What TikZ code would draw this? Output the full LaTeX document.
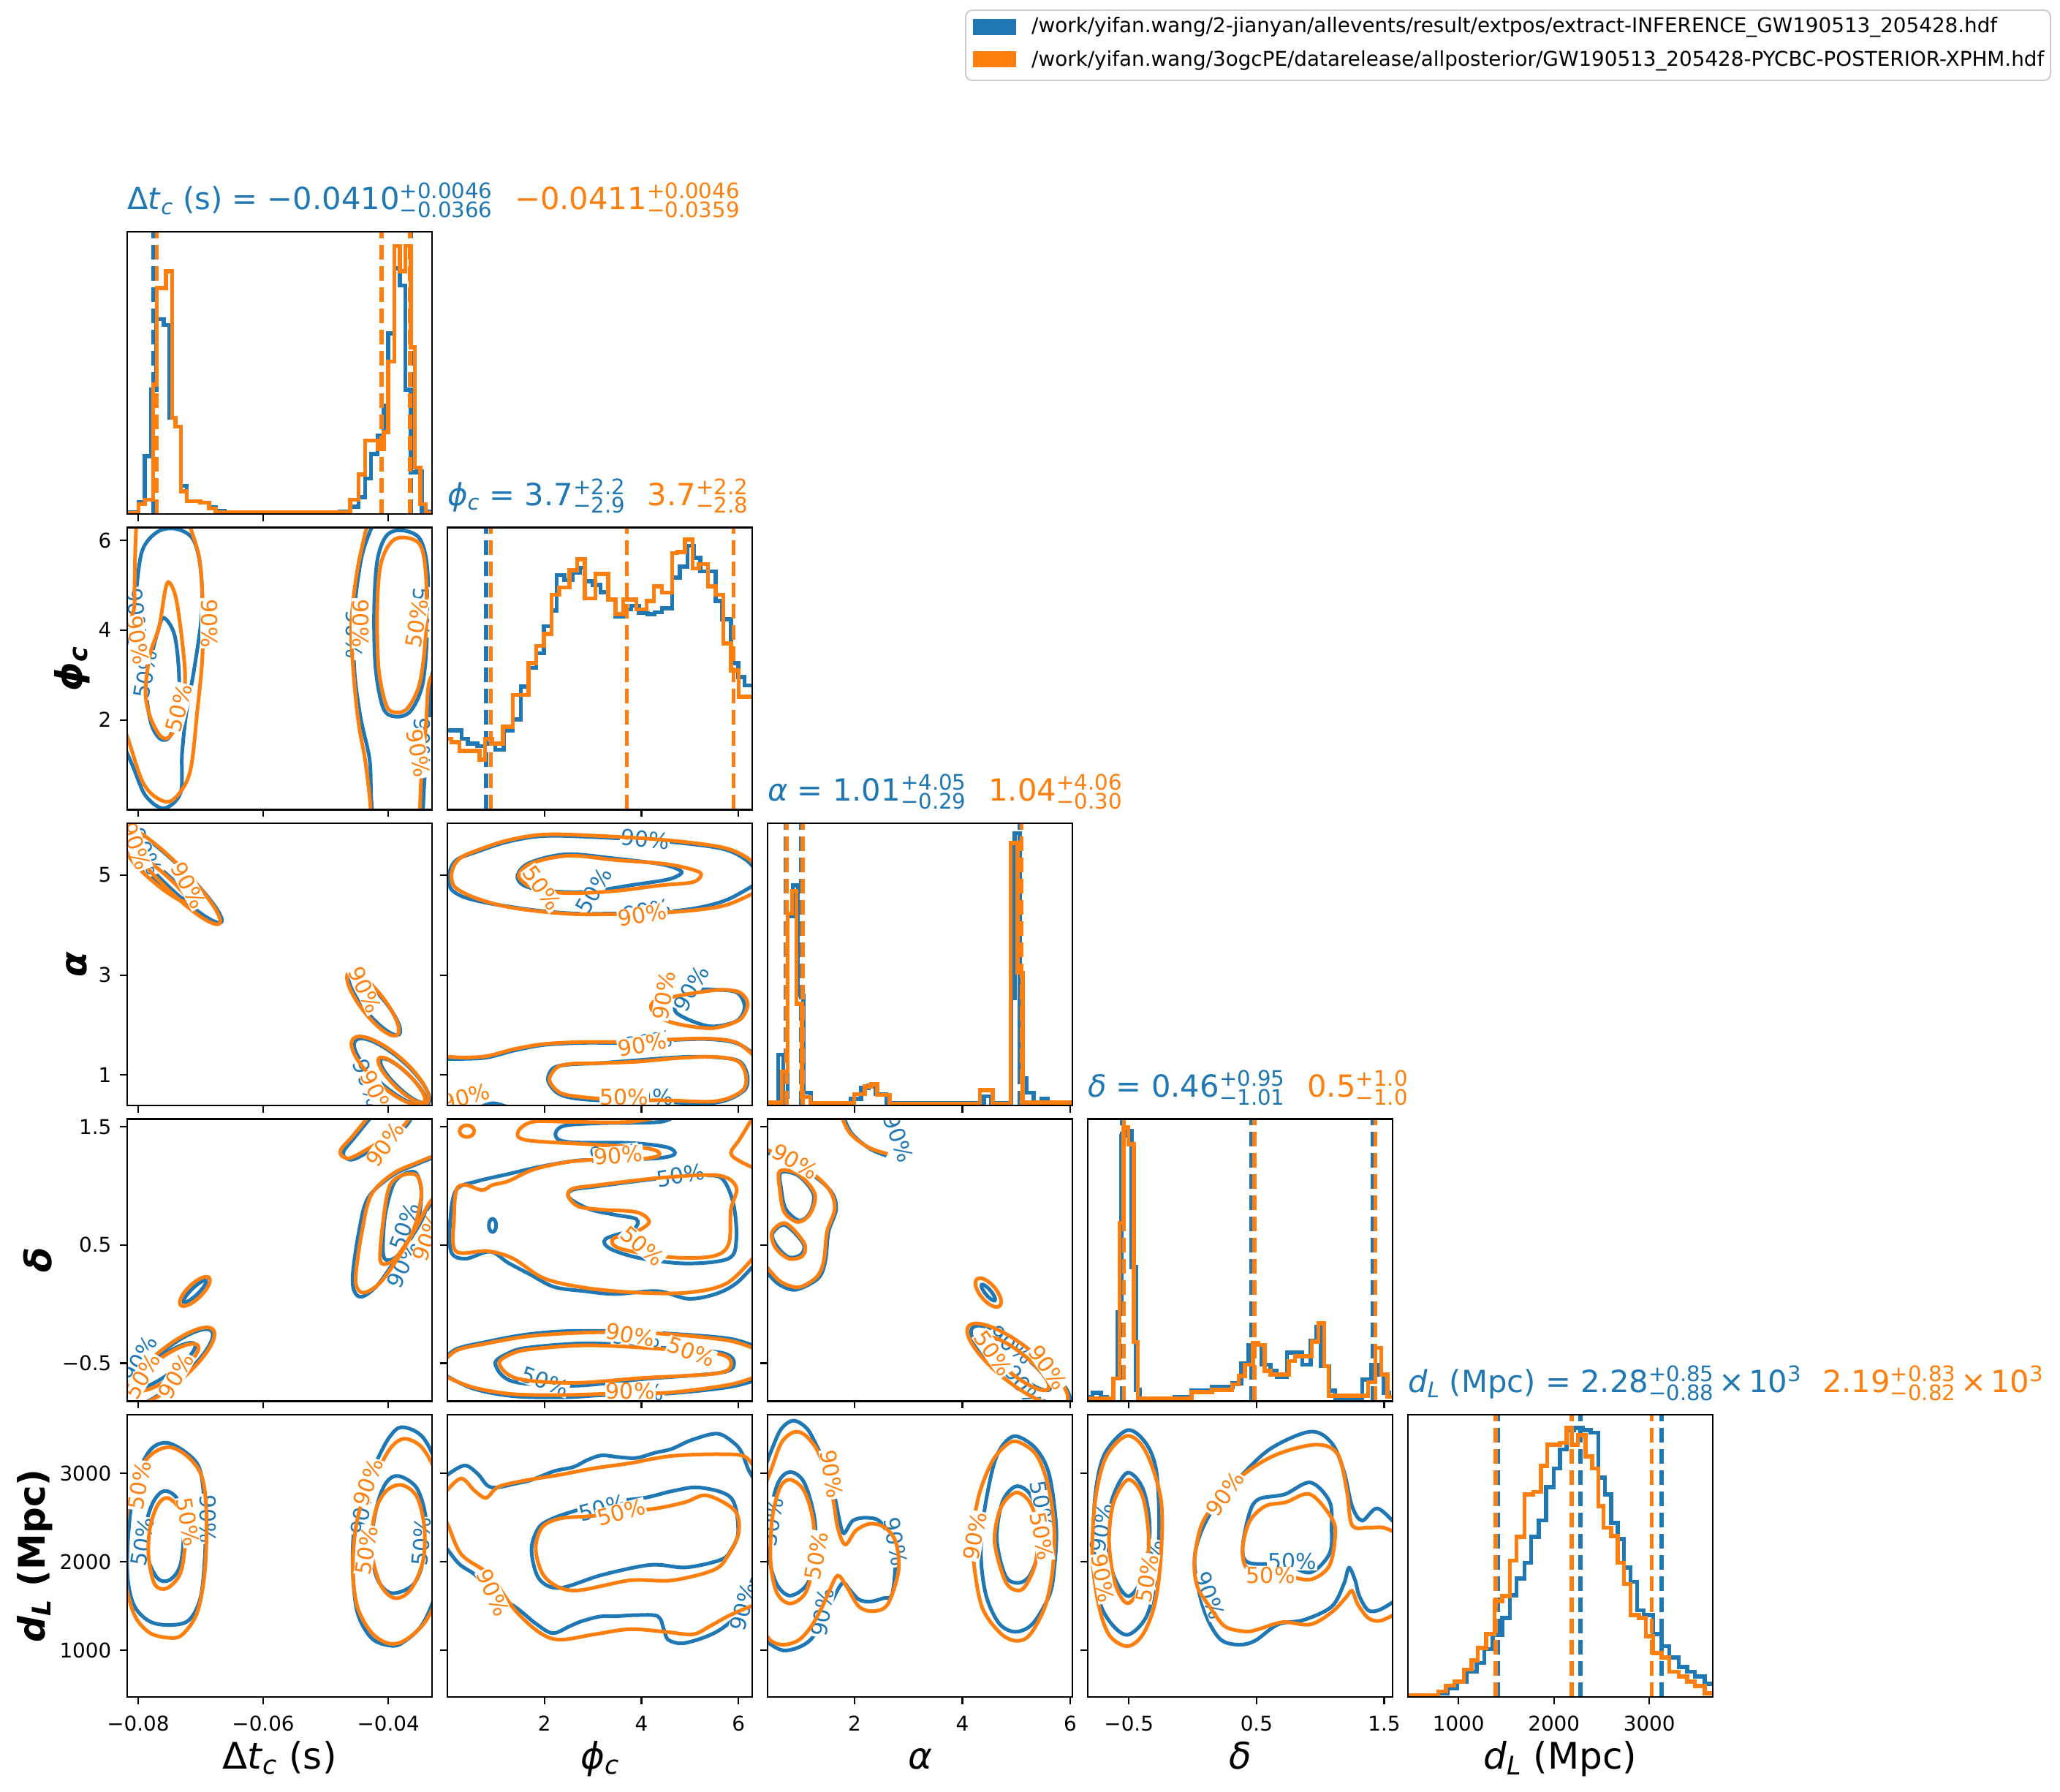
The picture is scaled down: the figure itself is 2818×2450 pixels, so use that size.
\RequirePackage{fix-cm}
\documentclass[tikz,border=0pt]{standalone}
\usepackage{fontspec}
\usepackage{amsmath}
\setmainfont{DejaVu Sans}
\definecolor{cb}{HTML}{1F77B4}
\definecolor{co}{HTML}{FF7F0E}
\newcommand\tickf{\fontsize{27.8}{30}\selectfont}
\newcommand\titf{\fontsize{41.7}{46}\selectfont}
\newcommand\labf{\fontsize{50}{56}\selectfont}
\newcommand\clabf{\fontsize{30}{32}\selectfont}
\newcommand\ud[2]{\ensuremath{^{\text{#1}}_{\text{#2}}}}
\newcommand\sbi[1]{\ensuremath{_{\text{\itshape #1}}}}
\newcommand\spr[1]{\ensuremath{^{\text{#1}}}}
\newcommand\tms{\hspace{0.15em}×\hspace{0.15em}}
\newcommand\btk[1]{\foreach \tv in {#1} {\draw[tk] (\tv,0) -- ++(0pt,-9.7pt);}}
\newcommand\ltk[1]{\foreach \tv in {#1} {\draw[tk] (0,\tv) -- ++(-9.7pt,0pt);}}
\tikzset{
 pan/.style 2 args={shift={(#1pt,#2pt)}, x=417pt, y=386pt},
 frm/.style={draw=black, line width=2.2pt},
 tk/.style={black, line width=2.2pt},
 hb/.style={cb, line width=5.5pt},
 ho/.style={co, line width=5.5pt},
 qb/.style={cb, line width=5.5pt, dash pattern=on 20pt off 9pt},
 qo/.style={co, line width=5.5pt, dash pattern=on 20pt off 9pt},
 cb5/.style={cb, line width=5pt},
 co5/.style={co, line width=5pt},
 lb/.style={text=cb, font=\clabf, inner sep=1pt, fill=white},
 lo/.style={text=co, font=\clabf, inner sep=1pt, fill=white},
 xtl/.style={anchor=north, inner sep=0pt, font=\tickf, yshift=-26pt},
 ytl/.style={anchor=east, inner sep=0pt, font=\tickf, xshift=-21.5pt},
 ttl/.style={anchor=base west, inner sep=0pt, font=\titf},
 xlab/.style={anchor=base, inner sep=0pt, font=\labf},
 ylab/.style={anchor=base, inner sep=0pt, font=\labf\bfseries, rotate=90},
 sm/.style={smooth, tension=0.55},
 smc/.style={smooth cycle, tension=0.55},
}
\begin{document}
\begin{tikzpicture}[x=1pt,y=1pt]
\fill[white] (0,0) rectangle (2818,2450);
\useasboundingbox (0,0) rectangle (2818,2450);

% ---------------- legend
\draw[draw=black!20, line width=2pt, rounded corners=9pt, fill=white] (1321,2436) rectangle (2805,2340);
\fill[cb] (1331,2402) rectangle (1390,2424);
\node[anchor=west, inner sep=0pt, font=\tickf] (lg1) at (1411,2413) {/work/yifan.wang/2-jianyan/allevents/result/extpos/extract-INFERENCE\_GW190513\_205428.hdf};
\fill[co] (1331,2358) rectangle (1390,2380);
\node[anchor=west, inner sep=0pt, font=\tickf] (lg2) at (1411,2367) {/work/yifan.wang/3ogcPE/datarelease/allposterior/GW190513\_205428-PYCBC-POSTERIOR-XPHM.hdf};

% ---------------- R1C1 dt histogram
\begin{scope}[pan={174}{1747}]
 \begin{scope}\clip (0,0) rectangle (1,1);
  \draw[hb] plot[const plot mark left] coordinates {(0,0.006) (0.037,0.043) (0.058,0.205) (0.079,0.44) (0.096,0.69) (0.12,0.67) (0.138,0.34) (0.158,0.31) (0.176,0.10) (0.196,0.045) (0.24,0.04) (0.268,0.025) (0.29,0.012) (0.32,0.004) (0.697,0.008) (0.732,0.026) (0.759,0.06) (0.78,0.126) (0.8,0.212) (0.821,0.277) (0.842,0.385) (0.856,0.64) (0.876,0.87) (0.894,0.81) (0.913,0.44) (0.931,0.147) (0.949,0.15) (0.966,0.008) (1,0.008)};
  \foreach \q in {0.0851,0.836,0.931} {\draw[qb] (\q,0) -- (\q,1);}
  \draw[ho] plot[const plot mark left] coordinates {(0,0.004) (0.037,0.035) (0.058,0.05) (0.085,0.46) (0.097,0.8) (0.113,0.8) (0.127,0.86) (0.147,0.34) (0.158,0.31) (0.176,0.08) (0.196,0.045) (0.24,0.04) (0.268,0.02) (0.29,0.005) (0.697,0.005) (0.732,0.05) (0.759,0.14) (0.78,0.26) (0.8,0.26) (0.821,0.23) (0.842,0.29) (0.856,0.54) (0.876,0.95) (0.894,0.86) (0.913,0.95) (0.931,0.59) (0.944,0.165) (0.962,0.035) (0.98,0.004) (1,0.004)};
  \foreach \q in {0.0974,0.834,0.928} {\draw[qo] (\q,0) -- (\q,1);}
 \end{scope}
 \draw[frm] (0,0) rectangle (1,1);
 \btk{0.0359,0.4462,0.8564}
\end{scope}

% ---------------- R2C1 dt-phi
\begin{scope}[pan={174}{1342.5}]
 \begin{scope}\clip (0,0) rectangle (1,1);
  \draw[cb5] plot[sm] coordinates {(-0.02,0.55) (0.02,0.65) (0.03,0.78) (0.05,0.92) (0.1,0.985) (0.16,0.995) (0.215,0.96) (0.24,0.86) (0.245,0.7) (0.22,0.5) (0.195,0.35) (0.18,0.2) (0.175,0.06) (0.12,0.005) (0.06,0.05) (0.02,0.15) (-0.02,0.25)};
  \draw[cb5] plot[smc] coordinates {(0.12,0.68) (0.155,0.62) (0.17,0.48) (0.165,0.35) (0.14,0.26) (0.11,0.25) (0.08,0.3) (0.065,0.4) (0.075,0.52) (0.1,0.63)};
  \draw[cb5] plot[sm] coordinates {(0.81,1.02) (0.77,0.9) (0.745,0.7) (0.745,0.5) (0.765,0.33) (0.795,0.18) (0.8,0.05) (0.805,-0.02)};
  \draw[cb5] plot[sm] coordinates {(0.97,-0.02) (0.975,0.1) (0.99,0.3) (0.995,0.45) (1.02,0.55)};
  \draw[cb5] plot[smc] coordinates {(0.9,0.99) (0.96,0.96) (0.985,0.85) (0.985,0.65) (0.97,0.45) (0.93,0.35) (0.88,0.33) (0.84,0.36) (0.815,0.5) (0.81,0.7) (0.82,0.88) (0.85,0.97)};
  \node[lb, rotate=-85] (l21a) at (0.03,0.7) {90\%};
  \node[lb, rotate=80] (l21b) at (0.06,0.48) {50\%};
  \node[lb, rotate=-90] (l21c) at (0.745,0.62) {90\%};
  \node[lb, rotate=-90] (l21d) at (0.965,0.7) {50\%};
  \node[lb, rotate=-90] (l21e) at (0.968,0.24) {90\%};
  \draw[co5] plot[sm] coordinates {(0.03,1.02) (0.026,0.9) (0.024,0.79) (0.02,0.7) (-0.02,0.62)};
  \draw[co5] plot[sm] coordinates {(0.2,1.02) (0.235,0.9) (0.247,0.75) (0.247,0.55) (0.23,0.35) (0.205,0.13) (0.15,0.035) (0.1,0.04) (0.05,0.1) (0.0,0.26) (-0.02,0.3)};
  \draw[co5] plot[smc] coordinates {(0.138,0.805) (0.16,0.75) (0.18,0.6) (0.19,0.46) (0.175,0.33) (0.14,0.26) (0.11,0.26) (0.075,0.33) (0.06,0.42) (0.075,0.55) (0.105,0.65) (0.125,0.78)};
  \draw[co5] plot[sm] coordinates {(0.79,1.02) (0.755,0.85) (0.735,0.65) (0.745,0.45) (0.76,0.3) (0.78,0.18) (0.795,0.05) (0.8,-0.02)};
  \draw[co5] plot[sm] coordinates {(0.96,-0.02) (0.965,0.12) (0.98,0.3) (0.99,0.45) (1.02,0.5)};
  \draw[co5] plot[smc] coordinates {(0.9,0.965) (0.96,0.94) (0.98,0.83) (0.98,0.63) (0.96,0.45) (0.92,0.36) (0.88,0.345) (0.85,0.37) (0.825,0.5) (0.82,0.7) (0.83,0.86) (0.86,0.94)};
  \node[lo, rotate=-80] (l21f) at (0.035,0.6) {90\%};
  \node[lo, rotate=75] (l21g) at (0.17,0.36) {50\%};
  \node[lo, rotate=-90] (l21h) at (0.27,0.66) {90\%};
  \node[lo, rotate=-90] (l21i) at (0.765,0.66) {90\%};
  \node[lo, rotate=80] (l21j) at (0.95,0.66) {50\%};
  \node[lo, rotate=-80] (l21k) at (0.955,0.2) {90\%};
 \end{scope}
 \draw[frm] (0,0) rectangle (1,1);
 \btk{0.0359,0.4462,0.8564}
 \ltk{0.3183,0.6366,0.9549}
 \foreach \tv/\s in {0.3183/2,0.6366/4,0.9549/6} {\node[ytl] at (0,\tv) {\s};}
\end{scope}

% ---------------- R2C2 phi histogram
\begin{scope}[pan={612}{1342.5}]
 \begin{scope}\clip (0,0) rectangle (1,1);
  \draw[hb] plot[const plot mark left] coordinates {(0,0.281) (0.047,0.251) (0.067,0.234) (0.098,0.225) (0.123,0.234) (0.157,0.212) (0.185,0.281) (0.215,0.32) (0.241,0.437) (0.266,0.502) (0.291,0.554) (0.316,0.65) (0.342,0.706) (0.359,0.831) (0.384,0.814) (0.41,0.84) (0.434,0.857) (0.451,0.81) (0.476,0.797) (0.502,0.771) (0.527,0.745) (0.552,0.684) (0.577,0.71) (0.603,0.723) (0.628,0.697) (0.657,0.693) (0.68,0.7) (0.704,0.714) (0.737,0.822) (0.763,0.861) (0.788,0.935) (0.808,0.892) (0.83,0.844) (0.855,0.844) (0.88,0.74) (0.9,0.675) (0.93,0.52) (0.955,0.47) (0.975,0.44) (1,0.44)};
  \foreach \q in {0.127,0.589,0.939} {\draw[qb] (\q,0) -- (\q,1);}
  \draw[ho] plot[const plot mark left] coordinates {(0,0.251) (0.013,0.24) (0.039,0.208) (0.106,0.177) (0.123,0.251) (0.148,0.234) (0.182,0.294) (0.215,0.407) (0.266,0.52) (0.291,0.58) (0.316,0.623) (0.342,0.762) (0.367,0.788) (0.401,0.848) (0.426,0.887) (0.451,0.749) (0.485,0.835) (0.527,0.745) (0.552,0.693) (0.577,0.745) (0.62,0.71) (0.653,0.74) (0.678,0.792) (0.704,0.77) (0.737,0.909) (0.754,0.913) (0.779,0.957) (0.805,0.855) (0.825,0.87) (0.855,0.792) (0.88,0.762) (0.905,0.589) (0.93,0.494) (0.956,0.4) (1,0.4)};
  \foreach \q in {0.143,0.589,0.939} {\draw[qo] (\q,0) -- (\q,1);}
 \end{scope}
 \draw[frm] (0,0) rectangle (1,1);
 \btk{0.3183,0.6366,0.9549}
\end{scope}

% ---------------- R3C1 dt-alpha
\begin{scope}[pan={174}{938}]
 \begin{scope}\clip (0,0) rectangle (1,1);
  \draw[cb5, rotate around={-44:(0.15,0.815)}] (0.15,0.815) ellipse [x radius=92pt, y radius=15pt];
  \draw[cb5, rotate around={-40:(0.105,0.815)}] (0.105,0.815) ellipse [x radius=50pt, y radius=8pt];
  \draw[cb5, rotate around={-50:(0.812,0.355)}] (0.812,0.355) ellipse [x radius=52pt, y radius=14pt];
  \draw[cb5, rotate around={-41:(0.868,0.118)}] (0.868,0.118) ellipse [x radius=66pt, y radius=21pt];
  \draw[cb5, rotate around={-44:(0.905,0.088)}] (0.905,0.088) ellipse [x radius=42pt, y radius=11pt];
  \node[lb, rotate=-65] (l31a) at (0.06,0.9) {90\%};
  \node[lb, rotate=-70] (l31b) at (0.79,0.08) {90\%};
  \draw[co5, rotate around={-45:(0.145,0.815)}] (0.145,0.815) ellipse [x radius=93pt, y radius=17pt];
  \draw[co5, rotate around={-40:(0.1,0.81)}] (0.1,0.81) ellipse [x radius=52pt, y radius=9pt];
  \draw[co5, rotate around={-52:(0.806,0.36)}] (0.806,0.36) ellipse [x radius=54pt, y radius=16pt];
  \draw[co5, rotate around={-41:(0.862,0.122)}] (0.862,0.122) ellipse [x radius=67pt, y radius=23pt];
  \draw[co5, rotate around={-44:(0.9,0.09)}] (0.9,0.09) ellipse [x radius=43pt, y radius=12pt];
  \node[lo, rotate=-62] (l31c) at (0.2,0.78) {90\%};
  \node[lo, rotate=-70] (l31d) at (0.03,0.92) {90\%};
  \node[lo, rotate=-65] (l31e) at (0.78,0.41) {90\%};
  \node[lo, rotate=-65] (l31f) at (0.82,0.04) {90\%};
 \end{scope}
 \draw[frm] (0,0) rectangle (1,1);
 \btk{0.0359,0.4462,0.8564}
 \ltk{0.108,0.462,0.816}
 \foreach \tv/\s in {0.108/1,0.462/3,0.816/5} {\node[ytl] at (0,\tv) {\s};}
\end{scope}

% ---------------- R3C2 phi-alpha
\begin{scope}[pan={612}{938}]
 \begin{scope}\clip (0,0) rectangle (1,1);
  \draw[cb5] plot[sm] coordinates {(1.02,0.82) (0.98,0.87) (0.9,0.91) (0.72,0.935) (0.5,0.95) (0.32,0.955) (0.2,0.935) (0.1,0.9) (0.03,0.87) (0.005,0.82) (0.01,0.77) (0.05,0.74) (0.12,0.72) (0.2,0.705) (0.3,0.69) (0.42,0.68) (0.55,0.68) (0.7,0.685) (0.82,0.7) (0.92,0.73) (1.02,0.79)};
  \draw[cb5] plot[smc] coordinates {(0.23,0.816) (0.27,0.86) (0.39,0.89) (0.55,0.875) (0.7,0.855) (0.76,0.835) (0.765,0.82) (0.72,0.8) (0.6,0.78) (0.46,0.757) (0.33,0.76) (0.25,0.78)};
  \draw[cb5] plot[sm] coordinates {(-0.02,0.165) (0.05,0.165) (0.13,0.17) (0.22,0.195) (0.32,0.215) (0.45,0.222) (0.56,0.222) (0.7,0.23) (0.85,0.235) (0.95,0.22) (1.02,0.17)};
  \draw[cb5] plot[sm] coordinates {(0.1,-0.01) (0.15,0.008) (0.21,-0.01)};
  \draw[cb5] plot[smc] coordinates {(0.347,0.132) (0.33,0.09) (0.36,0.045) (0.42,0.025) (0.55,0.015) (0.7,0.012) (0.88,0.01) (0.97,0.05) (0.985,0.1) (0.96,0.155) (0.89,0.17) (0.78,0.172) (0.62,0.16) (0.5,0.15) (0.4,0.145)};
  \draw[cb5] plot[smc] coordinates {(0.75,0.33) (0.8,0.3) (0.87,0.28) (0.95,0.3) (0.975,0.35) (0.95,0.4) (0.88,0.41) (0.82,0.41) (0.78,0.39) (0.75,0.36)};
  \node[lb, rotate=-5] (l32a) at (0.648,0.943) {90\%};
  \node[lb, rotate=10] (l32b) at (0.655,0.69) {90\%};
  \node[lb, rotate=60] (l32c) at (0.48,0.76) {50\%};
  \node[lb, rotate=10] (l32d) at (0.66,0.225) {90\%};
  \node[lb] (l32e) at (0.66,0.03) {50\%};
  \node[lb, rotate=60] (l32f) at (0.8,0.415) {90\%};
  \draw[co5] plot[sm] coordinates {(1.02,0.84) (0.98,0.88) (0.9,0.915) (0.72,0.94) (0.5,0.955) (0.32,0.96) (0.2,0.94) (0.1,0.905) (0.04,0.875) (0.015,0.83) (0.02,0.78) (0.06,0.75) (0.12,0.725) (0.2,0.703) (0.3,0.688) (0.42,0.678) (0.55,0.678) (0.7,0.683) (0.82,0.693) (0.92,0.712) (1.02,0.76)};
  \draw[co5] plot[smc] coordinates {(0.235,0.82) (0.28,0.86) (0.4,0.885) (0.55,0.87) (0.72,0.855) (0.82,0.83) (0.83,0.81) (0.8,0.79) (0.7,0.78) (0.55,0.76) (0.4,0.752) (0.3,0.765) (0.25,0.79)};
  \draw[co5] plot[sm] coordinates {(-0.02,0.175) (0.05,0.17) (0.13,0.175) (0.22,0.2) (0.32,0.218) (0.45,0.225) (0.56,0.225) (0.7,0.232) (0.85,0.237) (0.95,0.222) (1.02,0.16)};
  \draw[co5] plot[smc] coordinates {(0.36,0.135) (0.335,0.09) (0.37,0.045) (0.44,0.03) (0.56,0.02) (0.72,0.018) (0.88,0.015) (0.965,0.05) (0.98,0.1) (0.955,0.155) (0.88,0.172) (0.76,0.168) (0.62,0.155) (0.5,0.15) (0.41,0.148)};
  \draw[co5] plot[smc] coordinates {(0.67,0.34) (0.72,0.3) (0.8,0.28) (0.88,0.275) (0.96,0.305) (0.985,0.36) (0.96,0.4) (0.9,0.41) (0.82,0.4) (0.74,0.385) (0.68,0.37)};
  \node[lo, rotate=-55] (l32g) at (0.31,0.77) {50\%};
  \node[lo, rotate=10] (l32h) at (0.64,0.675) {90\%};
  \node[lo, rotate=10] (l32i) at (0.64,0.215) {90\%};
  \node[lo] (l32j) at (0.58,0.03) {50\%};
  \node[lo, rotate=15] (l32k) at (0.06,0.03) {90\%};
  \node[lo, rotate=80] (l32l) at (0.71,0.39) {90\%};
 \end{scope}
 \draw[frm] (0,0) rectangle (1,1);
 \btk{0.3183,0.6366,0.9549}
 \ltk{0.108,0.462,0.816}
\end{scope}

% ---------------- R3C3 alpha histogram
\begin{scope}[pan={1050}{938}]
 \begin{scope}\clip (0,0) rectangle (1,1);
  \draw[hb] plot[const plot mark left] coordinates {(0,0.01) (0.035,0.18) (0.052,0.03) (0.066,0.67) (0.083,0.78) (0.1,0.39) (0.118,0.045) (0.142,0.008) (0.272,0.023) (0.307,0.062) (0.331,0.071) (0.355,0.04) (0.39,0.008) (0.71,0.032) (0.734,0.008) (0.8,0.38) (0.81,0.965) (0.827,0.097) (0.85,0.045) (0.873,0.01) (0.898,0.023) (0.92,0.006) (1,0.006)};
  \foreach \q in {0.0584,0.1097,0.8265} {\draw[qb] (\q,0) -- (\q,1);}
  \draw[ho] plot[const plot mark left] coordinates {(0,0.01) (0.047,0.12) (0.066,0.68) (0.08,0.76) (0.095,0.36) (0.113,0.03) (0.14,0.008) (0.284,0.04) (0.319,0.067) (0.34,0.075) (0.36,0.037) (0.4,0.006) (0.697,0.054) (0.738,0.006) (0.797,0.93) (0.82,0.47) (0.837,0.01) (1,0.006)};
  \foreach \q in {0.062,0.115,0.8336} {\draw[qo] (\q,0) -- (\q,1);}
 \end{scope}
 \draw[frm] (0,0) rectangle (1,1);
 \btk{0.285,0.6389,0.9929}
\end{scope}

% ---------------- R4C1 dt-delta
\begin{scope}[pan={174}{533.5}]
 \begin{scope}\clip (0,0) rectangle (1,1);
  \draw[cb5] plot[sm] coordinates {(0.81,1.02) (0.75,0.94) (0.71,0.885) (0.72,0.86) (0.76,0.865) (0.9,0.96) (0.94,1.02)};
  \draw[cb5] plot[sm] coordinates {(1.02,0.87) (0.95,0.84) (0.87,0.8) (0.79,0.72) (0.76,0.6) (0.74,0.45) (0.745,0.39) (0.77,0.37) (0.82,0.41) (0.88,0.5) (0.95,0.61) (0.99,0.69) (1.02,0.72)};
  \draw[cb5] plot[smc] coordinates {(0.946,0.81) (0.965,0.74) (0.95,0.62) (0.9,0.53) (0.862,0.5) (0.84,0.52) (0.845,0.65) (0.87,0.76) (0.9,0.8)};
  \draw[cb5, rotate around={44:(0.222,0.389)}] (0.222,0.389) ellipse [x radius=21pt, y radius=5pt];
  \draw[cb5, rotate around={40:(0.13,0.115)}] (0.13,0.115) ellipse [x radius=80pt, y radius=22pt];
  \draw[cb5, rotate around={35:(0.12,0.125)}] (0.12,0.125) ellipse [x radius=52pt, y radius=13pt];
  \node[lb, rotate=65] (l41a) at (0.905,0.485) {90\%};
  \node[lb, rotate=70] (l41b) at (0.91,0.62) {50\%};
  \node[lb, rotate=60] (l41c) at (0.04,0.15) {90\%};
  \draw[co5] plot[sm] coordinates {(0.8,1.02) (0.74,0.94) (0.7,0.89) (0.71,0.865) (0.75,0.87) (0.9,0.97) (0.93,1.02)};
  \draw[co5] plot[sm] coordinates {(1.02,0.875) (0.95,0.845) (0.87,0.805) (0.8,0.73) (0.77,0.6) (0.75,0.45) (0.755,0.4) (0.78,0.385) (0.83,0.42) (0.89,0.51) (0.95,0.62) (0.99,0.7) (1.02,0.735)};
  \draw[co5] plot[smc] coordinates {(0.95,0.8) (0.965,0.73) (0.94,0.61) (0.89,0.52) (0.86,0.49) (0.83,0.5) (0.84,0.64) (0.86,0.76) (0.9,0.8)};
  \draw[co5, rotate around={44:(0.222,0.389)}] (0.222,0.389) ellipse [x radius=27pt, y radius=10pt];
  \draw[co5, rotate around={40:(0.135,0.12)}] (0.135,0.12) ellipse [x radius=80pt, y radius=24pt];
  \draw[co5, rotate around={35:(0.13,0.12)}] (0.13,0.12) ellipse [x radius=52pt, y radius=15pt];
  \node[lo, rotate=55] (l41d) at (0.845,0.91) {90\%};
  \node[lo, rotate=70] (l41e) at (0.985,0.58) {90\%};
  \node[lo, rotate=60] (l41f) at (0.05,0.09) {50\%};
  \node[lo, rotate=60] (l41g) at (0.16,0.09) {90\%};
 \end{scope}
 \draw[frm] (0,0) rectangle (1,1);
 \btk{0.0359,0.4462,0.8564}
 \ltk{0.1348,0.5536,0.9724}
 \foreach \tv/\s in {0.1348/−0.5,0.5536/0.5,0.9724/1.5} {\node[ytl] at (0,\tv) {\s};}
\end{scope}

% ---------------- R4C2 phi-delta
\begin{scope}[pan={612}{533.5}]
 \begin{scope}\clip (0,0) rectangle (1,1);
  \draw[cb5] plot[sm] coordinates {(0.754,1.02) (0.7,0.99) (0.5,0.985) (0.38,0.975) (0.355,0.94) (0.4,0.918) (0.6,0.915) (0.72,0.9) (0.745,0.875) (0.68,0.86) (0.5,0.855) (0.42,0.852) (0.3,0.83) (0.2,0.805) (0.1,0.78) (0.03,0.75) (0.01,0.65) (0.012,0.53) (0.06,0.505) (0.14,0.53) (0.2,0.49) (0.27,0.45) (0.35,0.405) (0.45,0.39) (0.55,0.38) (0.69,0.39) (0.79,0.363) (0.88,0.38) (0.95,0.42) (1.02,0.5)};
  \draw[cb5] (0.148,0.623) ellipse [x radius=5pt, y radius=9pt];
  \draw[cb5] plot[smc] coordinates {(0.409,0.748) (0.4,0.72) (0.468,0.68) (0.552,0.66) (0.62,0.645) (0.611,0.61) (0.519,0.575) (0.535,0.54) (0.636,0.506) (0.788,0.488) (0.923,0.506) (0.948,0.575) (0.939,0.696) (0.906,0.783) (0.855,0.8) (0.687,0.788) (0.488,0.761)};
  \draw[cb5] plot[sm] coordinates {(-0.02,0.14) (0.03,0.185) (0.131,0.211) (0.25,0.235) (0.384,0.248) (0.55,0.248) (0.72,0.24) (0.923,0.222) (1.02,0.19)};
  \draw[cb5] plot[sm] coordinates {(-0.02,0.1) (0.081,0.046) (0.215,0.018) (0.384,0.014) (0.52,0.022) (0.72,0.027) (0.923,0.05) (1.02,0.078)};
  \draw[cb5] plot[smc] coordinates {(0.157,0.133) (0.2,0.17) (0.266,0.19) (0.468,0.205) (0.72,0.188) (0.906,0.17) (0.94,0.128) (0.89,0.1) (0.636,0.078) (0.418,0.055) (0.215,0.07)};
  \node[lb, rotate=5] (l42a) at (0.545,0.878) {90\%};
  \node[lb, rotate=10] (l42b) at (0.765,0.8) {50\%};
  \node[lb, rotate=-5] (l42c) at (0.62,0.225) {90\%};
  \node[lb, rotate=-20] (l42d) at (0.32,0.07) {50\%};
  \node[lb] (l42e) at (0.63,0.03) {90\%};
  \draw[co5] plot[sm] coordinates {(0.75,1.02) (0.6,0.99) (0.4,0.99) (0.28,0.99) (0.232,0.955) (0.26,0.925) (0.47,0.91) (0.66,0.895) (0.695,0.872) (0.63,0.858) (0.47,0.855) (0.38,0.845) (0.28,0.82) (0.2,0.78) (0.148,0.766) (0.114,0.748) (0.06,0.766) (0.03,0.75) (0.022,0.653) (0.027,0.532) (0.131,0.532) (0.215,0.506) (0.316,0.436) (0.451,0.402) (0.62,0.385) (0.79,0.385) (0.92,0.42) (1.02,0.53)};
  \draw[co5] plot[sm] coordinates {(1.01,1.02) (0.96,0.93) (0.93,0.88) (0.96,0.85) (1.02,0.82)};
  \draw[co5] (0.064,0.957) ellipse [x radius=10pt, y radius=8pt];
  \draw[co5] plot[smc] coordinates {(0.409,0.752) (0.397,0.725) (0.43,0.69) (0.502,0.679) (0.62,0.67) (0.662,0.636) (0.62,0.601) (0.543,0.575) (0.569,0.54) (0.737,0.51) (0.872,0.514) (0.923,0.558) (0.93,0.679) (0.948,0.757) (0.889,0.8) (0.704,0.792) (0.488,0.765)};
  \draw[co5] plot[sm] coordinates {(-0.02,0.13) (0.03,0.18) (0.131,0.205) (0.25,0.228) (0.384,0.24) (0.55,0.245) (0.72,0.238) (0.923,0.215) (1.02,0.18)};
  \draw[co5] plot[sm] coordinates {(-0.02,0.095) (0.081,0.05) (0.215,0.025) (0.384,0.022) (0.52,0.026) (0.72,0.03) (0.923,0.058) (1.02,0.09)};
  \draw[co5] plot[smc] coordinates {(0.17,0.133) (0.21,0.168) (0.28,0.185) (0.468,0.198) (0.72,0.184) (0.9,0.165) (0.93,0.126) (0.88,0.098) (0.636,0.082) (0.418,0.065) (0.23,0.08)};
  \node[lo, rotate=5] (l42f) at (0.56,0.872) {90\%};
  \node[lo, rotate=-40] (l42g) at (0.64,0.55) {50\%};
  \node[lo, rotate=-10] (l42h) at (0.6,0.235) {90\%};
  \node[lo, rotate=-20] (l42i) at (0.8,0.175) {50\%};
  \node[lo] (l42j) at (0.6,0.035) {90\%};
 \end{scope}
 \draw[frm] (0,0) rectangle (1,1);
 \btk{0.3183,0.6366,0.9549}
 \ltk{0.1348,0.5536,0.9724}
\end{scope}

% ---------------- R4C3 alpha-delta
\begin{scope}[pan={1050}{533.5}]
 \begin{scope}\clip (0,0) rectangle (1,1);
  \draw[cb5] plot[sm] coordinates {(0.245,1.02) (0.275,0.95) (0.335,0.895) (0.39,0.87)};
  \draw[cb5] plot[sm] coordinates {(-0.02,0.89) (0.06,0.85) (0.15,0.8) (0.21,0.74) (0.225,0.68) (0.2,0.6) (0.19,0.5) (0.17,0.44) (0.12,0.405) (0.08,0.395) (0.03,0.42) (-0.02,0.48)};
  \draw[cb5] plot[smc] coordinates {(0.043,0.81) (0.1,0.8) (0.15,0.735) (0.14,0.67) (0.105,0.64) (0.06,0.68) (0.045,0.75)};
  \draw[cb5] plot[smc] coordinates {(0.016,0.593) (0.057,0.624) (0.117,0.559) (0.11,0.52) (0.07,0.51) (0.03,0.55)};
  \draw[cb5, rotate around={-50:(0.724,0.385)}] (0.724,0.385) ellipse [x radius=14pt, y radius=4pt];
  \draw[cb5, rotate around={-38:(0.83,0.125)}] (0.83,0.125) ellipse [x radius=84pt, y radius=24pt];
  \draw[cb5, rotate around={-39:(0.825,0.13)}] (0.825,0.13) ellipse [x radius=54pt, y radius=13pt];
  \node[lb, rotate=-70] (l43a) at (0.43,0.93) {90\%};
  \node[lb, rotate=-38] (l43b) at (0.8,0.2) {90\%};
  \node[lb, rotate=-55] (l43c) at (0.84,0.05) {90\%};
  \draw[co5] plot[sm] coordinates {(0.239,1.02) (0.27,0.95) (0.33,0.9) (0.394,0.876)};
  \draw[co5] plot[sm] coordinates {(-0.02,0.9) (0.06,0.86) (0.15,0.805) (0.205,0.745) (0.22,0.68) (0.195,0.6) (0.185,0.5) (0.165,0.445) (0.12,0.41) (0.085,0.405) (0.035,0.43) (-0.02,0.5)};
  \draw[co5] plot[smc] coordinates {(0.04,0.815) (0.1,0.805) (0.155,0.735) (0.14,0.665) (0.1,0.635) (0.055,0.67) (0.04,0.75)};
  \draw[co5] plot[smc] coordinates {(0.015,0.6) (0.06,0.63) (0.12,0.56) (0.115,0.515) (0.07,0.505) (0.025,0.545)};
  \draw[co5, rotate around={-50:(0.724,0.385)}] (0.724,0.385) ellipse [x radius=24pt, y radius=11pt];
  \draw[co5, rotate around={-38:(0.82,0.13)}] (0.82,0.13) ellipse [x radius=85pt, y radius=26pt];
  \draw[co5, rotate around={-39:(0.818,0.133)}] (0.818,0.133) ellipse [x radius=55pt, y radius=15pt];
  \node[lo, rotate=-30] (l43d) at (0.09,0.85) {90\%};
  \node[lo, rotate=-55] (l43e) at (0.92,0.12) {90\%};
  \node[lo, rotate=-55] (l43f) at (0.74,0.17) {50\%};
 \end{scope}
 \draw[frm] (0,0) rectangle (1,1);
 \btk{0.285,0.6389,0.9929}
 \ltk{0.1348,0.5536,0.9724}
\end{scope}

% ---------------- R4C4 delta histogram
\begin{scope}[pan={1488}{533.5}]
 \begin{scope}\clip (0,0) rectangle (1,1);
  \draw[hb] plot[const plot mark left] coordinates {(0,0.016) (0.016,0.03) (0.043,0.016) (0.062,0.01) (0.084,0.08) (0.097,0.315) (0.11,0.94) (0.124,0.958) (0.144,0.476) (0.158,0.04) (0.171,0.01) (0.185,0.007) (0.285,0.015) (0.34,0.037) (0.408,0.05) (0.475,0.063) (0.503,0.133) (0.528,0.2) (0.57,0.13) (0.6,0.107) (0.62,0.085) (0.654,0.172) (0.704,0.13) (0.731,0.215) (0.751,0.263) (0.765,0.124) (0.792,0.037) (0.812,0.008) (0.9,0.076) (0.93,0.129) (0.95,0.094) (0.97,0.03) (0.988,0.015) (1,0.015)};
  \foreach \q in {0.113,0.537,0.935} {\draw[qb] (\q,0) -- (\q,1);}
  \draw[ho] plot[const plot mark left] coordinates {(0,0.01) (0.084,0.08) (0.104,0.632) (0.117,0.97) (0.133,0.91) (0.151,0.21) (0.164,0.01) (0.285,0.01) (0.34,0.033) (0.408,0.04) (0.474,0.059) (0.495,0.09) (0.515,0.129) (0.542,0.207) (0.56,0.2) (0.58,0.107) (0.6,0.094) (0.66,0.142) (0.68,0.159) (0.735,0.211) (0.756,0.276) (0.776,0.124) (0.79,0.02) (0.92,0.068) (0.944,0.189) (0.963,0.094) (0.983,0.015) (1,0.015)};
  \foreach \q in {0.119,0.547,0.943} {\draw[qo] (\q,0) -- (\q,1);}
 \end{scope}
 \draw[frm] (0,0) rectangle (1,1);
 \btk{0.1348,0.5536,0.9724}
\end{scope}

% ---------------- R5C1 dt-dL
\begin{scope}[pan={174}{129}]
 \begin{scope}\clip (0,0) rectangle (1,1);
  \draw[cb5] plot[smc] coordinates {(0.133,0.9) (0.2,0.86) (0.24,0.8) (0.255,0.65) (0.255,0.5) (0.24,0.35) (0.2,0.27) (0.133,0.255) (0.07,0.27) (0.02,0.33) (0.0,0.45) (0.01,0.65) (0.04,0.8) (0.08,0.88)};
  \draw[cb5] plot[smc] coordinates {(0.122,0.73) (0.165,0.7) (0.185,0.6) (0.175,0.47) (0.14,0.415) (0.1,0.42) (0.065,0.5) (0.06,0.6) (0.085,0.69)};
  \draw[cb5] plot[smc] coordinates {(0.901,0.956) (0.97,0.92) (1.02,0.8) (1.04,0.6) (1.02,0.4) (0.97,0.26) (0.9,0.19) (0.856,0.183) (0.8,0.21) (0.755,0.3) (0.74,0.45) (0.745,0.6) (0.775,0.73) (0.82,0.84) (0.86,0.92)};
  \draw[cb5] plot[smc] coordinates {(0.89,0.783) (0.95,0.74) (0.98,0.63) (0.975,0.5) (0.94,0.4) (0.867,0.368) (0.82,0.42) (0.8,0.54) (0.82,0.68) (0.85,0.76)};
  \node[lb, rotate=-90] (l51a) at (0.265,0.63) {90\%};
  \node[lb, rotate=80] (l51b) at (0.05,0.55) {50\%};
  \node[lb, rotate=80] (l51c) at (0.77,0.66) {90\%};
  \node[lb, rotate=85] (l51d) at (0.965,0.55) {50\%};
  \draw[co5] plot[smc] coordinates {(0.14,0.885) (0.2,0.85) (0.245,0.78) (0.26,0.65) (0.255,0.45) (0.23,0.3) (0.18,0.22) (0.133,0.21) (0.07,0.23) (0.02,0.3) (-0.01,0.45) (0.0,0.65) (0.035,0.79) (0.08,0.86)};
  \draw[co5] plot[smc] coordinates {(0.133,0.705) (0.175,0.66) (0.19,0.56) (0.175,0.44) (0.13,0.385) (0.09,0.4) (0.07,0.5) (0.075,0.6) (0.1,0.68)};
  \draw[co5] plot[smc] coordinates {(0.913,0.915) (0.97,0.88) (1.02,0.77) (1.04,0.6) (1.03,0.4) (0.98,0.27) (0.91,0.2) (0.856,0.19) (0.8,0.23) (0.755,0.32) (0.74,0.45) (0.75,0.6) (0.78,0.72) (0.83,0.82) (0.87,0.89)};
  \draw[co5] plot[smc] coordinates {(0.9,0.751) (0.95,0.71) (0.975,0.6) (0.97,0.48) (0.93,0.38) (0.878,0.35) (0.83,0.4) (0.8,0.53) (0.815,0.66) (0.85,0.73)};
  \node[lo, rotate=-80] (l51e) at (0.2,0.62) {50\%};
  \node[lo, rotate=80] (l51f) at (0.04,0.75) {50\%};
  \node[lo, rotate=70] (l51g) at (0.79,0.76) {90\%};
  \node[lo, rotate=80] (l51h) at (0.785,0.52) {50\%};
 \end{scope}
 \draw[frm] (0,0) rectangle (1,1);
 \btk{0.0359,0.4462,0.8564}
 \ltk{0.1659,0.4789,0.7919}
 \foreach \tv/\s in {0.1659/1000,0.4789/2000,0.7919/3000} {\node[ytl] at (0,\tv) {\s};}
 \foreach \tv/\s in {0.0359/−0.08,0.4462/−0.06,0.8564/−0.04} {\node[xtl] at (\tv,0) {\s};}
\end{scope}

% ---------------- R5C2 phi-dL
\begin{scope}[pan={612}{129}]
 \begin{scope}\clip (0,0) rectangle (1,1);
  \draw[cb5] plot[sm] coordinates {(-0.02,0.76) (0.0,0.787) (0.057,0.82) (0.1,0.79) (0.13,0.75) (0.161,0.742) (0.22,0.755) (0.276,0.769) (0.35,0.8) (0.414,0.815) (0.46,0.84) (0.506,0.856) (0.56,0.85) (0.621,0.847) (0.68,0.865) (0.736,0.879) (0.8,0.91) (0.885,0.933) (0.94,0.9) (0.966,0.865) (0.99,0.8) (1.02,0.75)};
  \draw[cb5] plot[sm] coordinates {(-0.02,0.55) (0.0,0.523) (0.04,0.47) (0.092,0.432) (0.15,0.37) (0.23,0.313) (0.29,0.26) (0.345,0.226) (0.4,0.25) (0.437,0.267) (0.5,0.285) (0.552,0.286) (0.62,0.29) (0.69,0.286) (0.71,0.24) (0.724,0.203) (0.77,0.19) (0.84,0.21) (0.897,0.24) (0.95,0.29) (0.98,0.36) (1.02,0.47)};
  \draw[cb5] plot[smc] coordinates {(0.276,0.523) (0.3,0.6) (0.345,0.632) (0.42,0.66) (0.52,0.69) (0.644,0.705) (0.74,0.73) (0.828,0.742) (0.931,0.705) (0.954,0.587) (0.93,0.52) (0.897,0.486) (0.782,0.459) (0.667,0.468) (0.506,0.432) (0.368,0.386) (0.3,0.42)};
  \node[lb, rotate=15] (l52a) at (0.51,0.67) {50\%};
  \node[lb, rotate=75] (l52b) at (0.97,0.32) {90\%};
  \draw[co5] plot[sm] coordinates {(-0.02,0.7) (0.0,0.733) (0.046,0.774) (0.09,0.73) (0.126,0.705) (0.155,0.735) (0.184,0.751) (0.27,0.77) (0.368,0.787) (0.48,0.81) (0.598,0.828) (0.68,0.845) (0.759,0.856) (0.897,0.86) (0.977,0.851) (1.02,0.79)};
  \draw[co5] plot[sm] coordinates {(-0.02,0.64) (0.0,0.614) (0.046,0.505) (0.138,0.432) (0.22,0.31) (0.3,0.23) (0.368,0.203) (0.483,0.222) (0.598,0.24) (0.713,0.231) (0.805,0.222) (0.86,0.25) (0.92,0.286) (0.97,0.31) (1.02,0.331)};
  \draw[co5] plot[smc] coordinates {(0.29,0.52) (0.31,0.6) (0.368,0.632) (0.46,0.64) (0.55,0.65) (0.69,0.669) (0.78,0.69) (0.851,0.714) (0.943,0.66) (0.955,0.58) (0.92,0.5) (0.874,0.45) (0.736,0.413) (0.598,0.413) (0.414,0.377) (0.322,0.422)};
  \node[lo, rotate=15] (l52c) at (0.57,0.655) {50\%};
  \node[lo, rotate=-65] (l52d) at (0.15,0.37) {90\%};
 \end{scope}
 \draw[frm] (0,0) rectangle (1,1);
 \btk{0.3183,0.6366,0.9549}
 \ltk{0.1659,0.4789,0.7919}
 \foreach \tv/\s in {0.3183/2,0.6366/4,0.9549/6} {\node[xtl] at (\tv,0) {\s};}
\end{scope}

% ---------------- R5C3 alpha-dL
\begin{scope}[pan={1050}{129}]
 \begin{scope}\clip (0,0) rectangle (1,1);
  \draw[cb5] plot[sm] coordinates {(-0.02,0.22) (0.005,0.19) (0.051,0.165) (0.1,0.175) (0.143,0.205) (0.18,0.27) (0.211,0.34) (0.246,0.404) (0.269,0.38) (0.3,0.345) (0.338,0.338) (0.38,0.35) (0.407,0.36) (0.418,0.45) (0.41,0.54) (0.37,0.62) (0.326,0.635) (0.28,0.625) (0.25,0.58) (0.235,0.63) (0.223,0.696) (0.2,0.8) (0.166,0.879) (0.13,0.95) (0.085,0.979) (0.045,0.95) (0.015,0.88) (-0.02,0.78)};
  \draw[cb5] plot[smc] coordinates {(0.074,0.797) (0.12,0.76) (0.154,0.632) (0.155,0.5) (0.13,0.4) (0.074,0.359) (0.03,0.4) (0.005,0.5) (0.01,0.65) (0.035,0.76)};
  \draw[cb5] plot[smc] coordinates {(0.814,0.924) (0.88,0.88) (0.924,0.787) (0.947,0.6) (0.94,0.45) (0.924,0.359) (0.87,0.26) (0.814,0.231) (0.76,0.26) (0.717,0.359) (0.7,0.5) (0.71,0.65) (0.74,0.815) (0.77,0.89)};
  \draw[cb5] plot[smc] coordinates {(0.814,0.746) (0.86,0.72) (0.89,0.632) (0.89,0.52) (0.86,0.43) (0.821,0.404) (0.78,0.43) (0.752,0.559) (0.77,0.69)};
  \node[lb, rotate=-80] (l53a) at (0.42,0.55) {90\%};
  \node[lb, rotate=80] (l53b) at (0.18,0.3) {90\%};
  \node[lb, rotate=80] (l53c) at (0.015,0.62) {50\%};
  \node[lb, rotate=-80] (l53d) at (0.9,0.68) {50\%};
  \draw[co5] plot[sm] coordinates {(-0.02,0.25) (0.01,0.2) (0.051,0.185) (0.1,0.2) (0.14,0.245) (0.175,0.31) (0.2,0.37) (0.23,0.43) (0.26,0.39) (0.3,0.32) (0.349,0.304) (0.395,0.33) (0.43,0.45) (0.42,0.55) (0.385,0.6) (0.338,0.614) (0.29,0.59) (0.255,0.54) (0.23,0.6) (0.215,0.7) (0.19,0.8) (0.16,0.88) (0.12,0.93) (0.085,0.938) (0.045,0.9) (0.01,0.8) (-0.02,0.72)};
  \draw[co5] plot[smc] coordinates {(0.074,0.77) (0.12,0.73) (0.15,0.62) (0.15,0.48) (0.125,0.37) (0.074,0.331) (0.03,0.37) (0.01,0.48) (0.015,0.63) (0.04,0.74)};
  \draw[co5] plot[smc] coordinates {(0.814,0.906) (0.88,0.86) (0.92,0.75) (0.94,0.6) (0.935,0.45) (0.91,0.32) (0.86,0.22) (0.814,0.199) (0.76,0.23) (0.7,0.33) (0.672,0.541) (0.69,0.7) (0.73,0.82) (0.77,0.88)};
  \draw[co5] plot[smc] coordinates {(0.814,0.724) (0.86,0.69) (0.885,0.6) (0.88,0.48) (0.85,0.4) (0.821,0.377) (0.78,0.41) (0.745,0.55) (0.765,0.67)};
  \node[lo, rotate=-80] (l53e) at (0.21,0.79) {90\%};
  \node[lo, rotate=80] (l53f) at (0.16,0.5) {50\%};
  \node[lo, rotate=80] (l53g) at (0.68,0.57) {90\%};
  \node[lo, rotate=-80] (l53h) at (0.9,0.57) {50\%};
 \end{scope}
 \draw[frm] (0,0) rectangle (1,1);
 \btk{0.285,0.6389,0.9929}
 \ltk{0.1659,0.4789,0.7919}
 \foreach \tv/\s in {0.285/2,0.6389/4,0.9929/6} {\node[xtl] at (\tv,0) {\s};}
\end{scope}

% ---------------- R5C4 delta-dL
\begin{scope}[pan={1488}{129}]
 \begin{scope}\clip (0,0) rectangle (1,1);
  \draw[cb5] plot[smc] coordinates {(0.129,0.945) (0.19,0.9) (0.225,0.8) (0.234,0.6) (0.22,0.4) (0.19,0.28) (0.129,0.22) (0.07,0.27) (0.034,0.36) (0.02,0.55) (0.025,0.72) (0.055,0.86)};
  \draw[cb5] plot[smc] coordinates {(0.129,0.794) (0.18,0.74) (0.203,0.609) (0.19,0.45) (0.135,0.357) (0.085,0.43) (0.065,0.559) (0.08,0.7)};
  \draw[cb5] plot[sm] coordinates {(1.02,0.35) (0.96,0.31) (0.92,0.307) (0.89,0.36) (0.878,0.41) (0.857,0.458) (0.84,0.4) (0.8,0.32) (0.709,0.273) (0.624,0.257) (0.55,0.2) (0.498,0.185) (0.44,0.2) (0.4,0.26) (0.37,0.35) (0.35,0.48) (0.37,0.58) (0.42,0.68) (0.5,0.78) (0.6,0.88) (0.73,0.94) (0.8,0.9) (0.84,0.8) (0.867,0.676) (0.9,0.625) (0.951,0.668) (1.02,0.6)};
  \draw[cb5] plot[smc] coordinates {(0.508,0.525) (0.53,0.65) (0.561,0.701) (0.646,0.718) (0.73,0.76) (0.793,0.693) (0.8,0.6) (0.793,0.508) (0.73,0.441) (0.646,0.47) (0.53,0.475)};
  \node[lb, rotate=80] (l54a) at (0.045,0.6) {90\%};
  \node[lb, rotate=80] (l54b) at (0.21,0.47) {50\%};
  \node[lb, rotate=-70] (l54c) at (0.4,0.36) {90\%};
  \node[lb] (l54d) at (0.67,0.48) {50\%};
  \draw[co5] plot[smc] coordinates {(0.129,0.925) (0.19,0.87) (0.24,0.7) (0.24,0.5) (0.22,0.33) (0.18,0.22) (0.129,0.18) (0.07,0.22) (0.035,0.33) (0.015,0.5) (0.025,0.7) (0.06,0.85)};
  \draw[co5] plot[smc] coordinates {(0.133,0.77) (0.18,0.71) (0.2,0.56) (0.185,0.42) (0.133,0.332) (0.09,0.4) (0.07,0.55) (0.085,0.69)};
  \draw[co5] plot[sm] coordinates {(1.02,0.3) (0.96,0.27) (0.92,0.28) (0.885,0.33) (0.867,0.376) (0.845,0.35) (0.8,0.3) (0.73,0.257) (0.64,0.265) (0.56,0.24) (0.519,0.232) (0.45,0.25) (0.4,0.32) (0.36,0.39) (0.35,0.48) (0.373,0.609) (0.43,0.7) (0.519,0.795) (0.624,0.861) (0.751,0.894) (0.82,0.86) (0.85,0.73) (0.867,0.609) (0.92,0.6) (0.97,0.6) (1.02,0.576)};
  \draw[co5] plot[smc] coordinates {(0.508,0.52) (0.53,0.62) (0.582,0.676) (0.65,0.69) (0.73,0.718) (0.804,0.626) (0.81,0.55) (0.79,0.46) (0.73,0.416) (0.65,0.43) (0.53,0.45)};
  \node[lo, rotate=-80] (l54e) at (0.05,0.42) {90\%};
  \node[lo, rotate=80] (l54f) at (0.195,0.42) {50\%};
  \node[lo, rotate=55] (l54g) at (0.45,0.72) {90\%};
  \node[lo] (l54h) at (0.6,0.43) {50\%};
 \end{scope}
 \draw[frm] (0,0) rectangle (1,1);
 \btk{0.1348,0.5536,0.9724}
 \ltk{0.1659,0.4789,0.7919}
 \foreach \tv/\s in {0.1348/−0.5,0.5536/0.5,0.9724/1.5} {\node[xtl] at (\tv,0) {\s};}
\end{scope}

% ---------------- R5C5 dL histogram
\begin{scope}[pan={1926}{129}]
 \begin{scope}\clip (0,0) rectangle (1,1);
  \draw[hb] plot[const plot mark left] coordinates {(0,0.005) (0.099,0.013) (0.131,0.03) (0.162,0.055) (0.193,0.09) (0.225,0.12) (0.251,0.17) (0.278,0.22) (0.309,0.28) (0.335,0.36) (0.356,0.42) (0.383,0.475) (0.404,0.567) (0.429,0.626) (0.453,0.743) (0.478,0.81) (0.499,0.877) (0.52,0.945) (0.545,0.953) (0.573,0.945) (0.6,0.936) (0.625,0.777) (0.646,0.718) (0.667,0.617) (0.688,0.56) (0.709,0.458) (0.73,0.408) (0.752,0.307) (0.773,0.29) (0.804,0.223) (0.832,0.18) (0.857,0.14) (0.888,0.106) (0.916,0.09) (0.941,0.072) (0.973,0.047) (1,0.047)};
  \foreach \q in {0.295,0.566,0.832} {\draw[qb] (\q,0) -- (\q,1);}
  \draw[ho] plot[const plot mark left] coordinates {(0,0.005) (0.099,0.02) (0.125,0.04) (0.152,0.055) (0.183,0.097) (0.208,0.13) (0.229,0.173) (0.257,0.223) (0.284,0.34) (0.309,0.357) (0.335,0.483) (0.356,0.567) (0.383,0.718) (0.411,0.727) (0.436,0.819) (0.457,0.894) (0.499,0.9) (0.52,0.953) (0.537,0.894) (0.558,0.928) (0.583,0.852) (0.604,0.81) (0.625,0.676) (0.642,0.6) (0.667,0.57) (0.688,0.475) (0.709,0.4) (0.73,0.29) (0.758,0.28) (0.78,0.215) (0.804,0.156) (0.832,0.14) (0.857,0.089) (0.888,0.072) (0.916,0.055) (0.941,0.039) (0.973,0.013) (1,0.013)};
  \foreach \q in {0.288,0.537,0.8} {\draw[qo] (\q,0) -- (\q,1);}
 \end{scope}
 \draw[frm] (0,0) rectangle (1,1);
 \btk{0.1659,0.4789,0.7919}
 \foreach \tv/\s in {0.1659/1000,0.4789/2000,0.7919/3000} {\node[xtl] at (\tv,0) {\s};}
\end{scope}

% ---------------- titles
\node[ttl, text=cb] (t1b) at (174,2163) {Δ\textit{t}\sbi{c} (s) = −0.0410\ud{+0.0046}{−0.0366}};
\node[ttl, text=co] (t1o) at ([xshift=30pt]t1b.base east) {−0.0411\ud{+0.0046}{−0.0359}};
\node[ttl, text=cb] (t2b) at (612,1758.5) {\textit{ϕ}\sbi{c} = 3.7\ud{+2.2}{−2.9}};
\node[ttl, text=co] (t2o) at ([xshift=30pt]t2b.base east) {3.7\ud{+2.2}{−2.8}};
\node[ttl, text=cb] (t3b) at (1050,1354) {\textit{α} = 1.01\ud{+4.05}{−0.29}};
\node[ttl, text=co] (t3o) at ([xshift=30pt]t3b.base east) {1.04\ud{+4.06}{−0.30}};
\node[ttl, text=cb] (t4b) at (1488,949.5) {\textit{δ} = 0.46\ud{+0.95}{−1.01}};
\node[ttl, text=co] (t4o) at ([xshift=30pt]t4b.base east) {0.5\ud{+1.0}{−1.0}};
\node[ttl, text=cb] (t5b) at (1926,545) {\textit{d}\sbi{L} (Mpc) = 2.28\ud{+0.85}{−0.88}\tms 10\spr{3}};
\node[ttl, text=co] (t5o) at ([xshift=28pt]t5b.base east) {2.19\ud{+0.83}{−0.82}\tms 10\spr{3}};

% ---------------- axis labels
\node[xlab] (xl1) at (382.5,31) {Δ\textit{t}\sbi{c} (s)};
\node[xlab] (xl2) at (820.5,31) {\textit{ϕ}\sbi{c}};
\node[xlab] (xl3) at (1258.5,31) {\textit{α}};
\node[xlab] (xl4) at (1696.5,31) {\textit{δ}};
\node[xlab] (xl5) at (2134.5,31) {\textit{d}\sbi{L} (Mpc)};
\node[ylab] (yl2) at (112,1535.5) {\textit{ϕ}\sbi{c}};
\node[ylab] (yl3) at (118,1131) {\textit{α}};
\node[ylab] (yl4) at (70,726.5) {\textit{δ}};
\node[ylab] (yl5) at (61,322) {\textit{d}\sbi{L} (Mpc)};
\end{tikzpicture}
\end{document}
